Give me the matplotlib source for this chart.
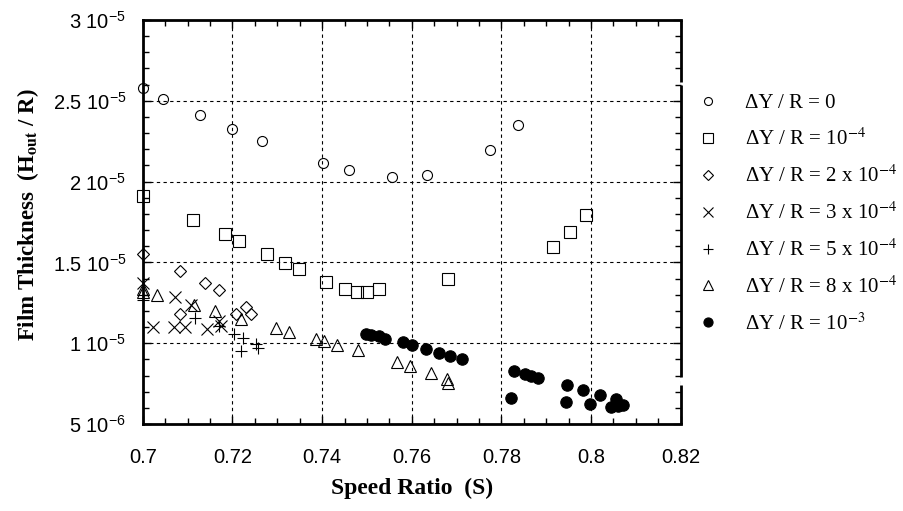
import numpy as np
import matplotlib
matplotlib.use("Agg")
import matplotlib.pyplot as plt
from matplotlib.ticker import MultipleLocator

plt.rcParams['font.family'] = ['Liberation Sans', 'DejaVu Sans']
plt.rcParams['mathtext.fontset'] = 'custom'
plt.rcParams['mathtext.rm'] = 'Liberation Sans'
plt.rcParams['mathtext.it'] = 'Liberation Sans:italic'
plt.rcParams['mathtext.bf'] = 'Liberation Sans:bold'

# film thickness values are in units of 1e-5
s_0 = [0.700, 0.7045, 0.7127, 0.7198, 0.7265, 0.7401, 0.7460, 0.7557, 0.7635, 0.7775, 0.7838]
h_0 = [2.578, 2.514, 2.409, 2.323, 2.251, 2.117, 2.074, 2.031, 2.041, 2.196, 2.350]

s_1 = [0.700, 0.7113, 0.7184, 0.7215, 0.7278, 0.7318, 0.7349, 0.7409, 0.7451, 0.7477,
       0.7499, 0.7526, 0.7680, 0.7916, 0.7954, 0.7988]
h_1 = [1.909, 1.765, 1.677, 1.630, 1.554, 1.498, 1.459, 1.379, 1.333, 1.317,
       1.319, 1.338, 1.399, 1.594, 1.687, 1.794]

s_2 = [0.700, 0.7083, 0.7138, 0.7171, 0.7082, 0.7208, 0.7230, 0.7241]
h_2 = [1.552, 1.448, 1.375, 1.328, 1.180, 1.179, 1.226, 1.179]

s_3 = [0.700, 0.7023, 0.7071, 0.7070, 0.7093, 0.7108, 0.7144, 0.7169, 0.7175]
h_3 = [1.375, 1.099, 1.284, 1.099, 1.099, 1.235, 1.091, 1.140, 1.110]

s_5 = [0.700, 0.7116, 0.7171, 0.7204, 0.7223, 0.7219, 0.7252, 0.7258]
h_5 = [1.265, 1.158, 1.107, 1.056, 1.035, 0.952, 0.994, 0.973]

s_8 = [0.700, 0.700, 0.7031, 0.7114, 0.7160, 0.7219, 0.7298, 0.7327, 0.7387, 0.7404,
       0.7434, 0.7479, 0.7568, 0.7596, 0.7642, 0.7678, 0.7680]
h_8 = [1.335, 1.315, 1.300, 1.237, 1.200, 1.152, 1.097, 1.070, 1.025, 1.015,
       0.990, 0.957, 0.887, 0.862, 0.819, 0.778, 0.757]

s_10 = [0.7498, 0.7510, 0.7526, 0.7541, 0.7580, 0.7600, 0.7632, 0.7660, 0.7686, 0.7713,
        0.7821, 0.7829, 0.7853, 0.7865, 0.7881, 0.7946, 0.7943, 0.7982, 0.7997, 0.8019,
        0.8044, 0.8056, 0.8060, 0.8071]
h_10 = [1.060, 1.053, 1.043, 1.029, 1.008, 0.990, 0.963, 0.942, 0.922, 0.903,
        0.660, 0.827, 0.809, 0.798, 0.784, 0.741, 0.638, 0.712, 0.623, 0.681,
        0.609, 0.654, 0.613, 0.617]

labels = ['\u0394Y / R = 0',
          '\u0394Y / R = 10$^{-4}$',
          '\u0394Y / R = 2 x 10$^{-4}$',
          '\u0394Y / R = 3 x 10$^{-4}$',
          '\u0394Y / R = 5 x 10$^{-4}$',
          '\u0394Y / R = 8 x 10$^{-4}$',
          '\u0394Y / R = 10$^{-3}$']

x_ticks = [0.70, 0.72, 0.74, 0.76, 0.78, 0.80, 0.82]
x_ticklabels = ['0.7', '0.72', '0.74', '0.76', '0.78', '0.8', '0.82']
y_ticks = [0.5e-5, 1.0e-5, 1.5e-5, 2.0e-5, 2.5e-5, 3.0e-5]
y_ticklabels = ['5 10$^{-6}$', '1 10$^{-5}$', '1.5 10$^{-5}$', '2 10$^{-5}$',
                '2.5 10$^{-5}$', '3 10$^{-5}$']

fig = plt.figure(figsize=(9.04, 5.11), dpi=100)
ax = fig.add_axes([0.158, 0.170, 0.595, 0.791])

#scale factor for the thickness values
k = 1e-5
style = dict(mec='black', mew=0.8, clip_on=False, zorder=3)
ax.plot(s_0, np.array(h_0) * k, 'o', ms=7.2, mfc='none', label=labels[0], **style)
ax.plot(s_1, np.array(h_1) * k, 's', ms=8.4, mfc='none', label=labels[1], **style)
ax.plot(s_2, np.array(h_2) * k, 'D', ms=6.0, mfc='none', label=labels[2], **style)
ax.plot(s_3, np.array(h_3) * k, 'x', ms=8.6, label=labels[3], **style)
ax.plot(s_5, np.array(h_5) * k, '+', ms=9.0, label=labels[4], **style)
ax.plot(s_8, np.array(h_8) * k, '^', ms=8.4, mfc='none', label=labels[5], **style)
ax.plot(s_10, np.array(h_10) * k, 'o', ms=8.2, mfc='black', label=labels[6], **style)

ax.set_xlim(0.70, 0.82)
ax.set_ylim(0.5e-5, 3.0e-5)
ax.set_xticks(x_ticks)
ax.set_xticklabels(x_ticklabels, fontsize=14.5)
ax.set_yticks(y_ticks)
ax.set_yticklabels(y_ticklabels, fontsize=14.5)
ax.xaxis.set_minor_locator(MultipleLocator(0.005))
ax.yaxis.set_minor_locator(MultipleLocator(1e-6))
ax.tick_params(which='both', direction='in', top=True, right=True, color='black')
ax.tick_params(which='major', length=5.5, width=1.0)
ax.tick_params(which='minor', length=4.5, width=1.0)
ax.tick_params(axis='x', which='major', pad=17)
ax.tick_params(axis='y', which='major', pad=12)

ax.grid(True, which='major', color='black', linestyle=(0, (3, 3)), linewidth=0.8)
for sp in ax.spines.values():
    sp.set_linewidth(2.0)

# right frame line has two small breaks in the original
ax.spines['right'].set_visible(False)
for y0, y1 in [(0.0, 0.0965), (0.117, 0.839), (0.847, 1.0)]:
    ax.axvline(0.82, ymin=y0, ymax=y1, color='black', lw=2.0, clip_on=False,
               solid_capstyle='butt', zorder=4)

ax.set_xlabel('Speed Ratio  (S)', fontsize=17, fontweight='bold',
              family='Liberation Serif', labelpad=8)
yl = ax.set_ylabel('Film Thickness  (H$_{\\mathbf{out}}$ / R)', fontsize=16.5, fontweight='bold',
                   family='Liberation Serif')
yl.set_math_fontfamily('stix')
ax.yaxis.set_label_coords(-0.19, 0.517)

leg = ax.legend(loc='center left', bbox_to_anchor=(1.015, 0.52), borderaxespad=0,
                frameon=False, handlelength=1.0, handletextpad=1.3, labelspacing=0.73,
                markerscale=0.8, prop={'family': 'Liberation Serif', 'size': 15})
for t in leg.get_texts():
    t.set_math_fontfamily('stix')

fig.savefig('out.png', dpi=100)
